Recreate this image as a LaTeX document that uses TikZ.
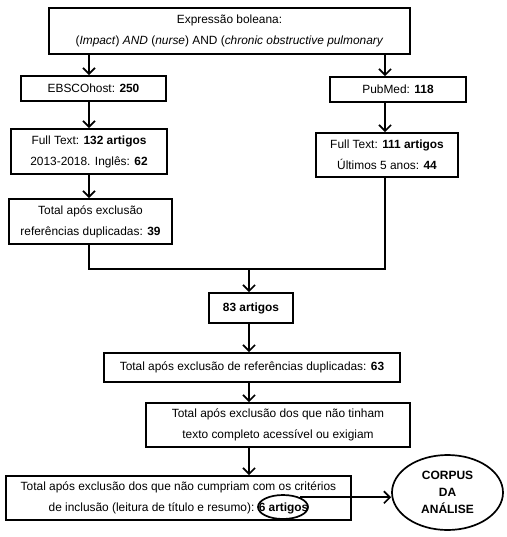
\documentclass[tikz,border=0pt]{standalone}
\usepackage{fontspec}
\setmainfont{Liberation Sans}
\usetikzlibrary{arrows.meta,shapes.geometric}
\begin{document}
\begin{tikzpicture}[x=1pt,y=-1pt,
  box/.style={draw,line width=1.7pt,rectangle,inner sep=0pt,align=center,
    font=\fontsize{11.9}{21}\selectfont},
  arr/.style={line width=1.7pt,-{Straight Barb[length=6pt,width=12pt,line width=1.7pt]}},
  ln/.style={line width=1.7pt}]
\useasboundingbox (0,0) rectangle (506,537);
\node[box,minimum width=361pt,minimum height=46pt] (top) at (229.5,31)
  {Expressão boleana:\\(\textit{Impact}) \textit{AND} (\textit{nurse}) AND (\textit{chronic obstructive pulmonary}};
\node[box,minimum width=145pt,minimum height=25pt] (ebsco) at (93.5,88.5) {EBSCOhost: \textbf{250}};
\node[box,minimum width=136pt,minimum height=25pt] (pubmed) at (398,89.5) {PubMed: \textbf{118}};
\node[box,minimum width=156pt,minimum height=45pt] (ft1) at (89,151.5) {Full Text: \textbf{132 artigos}\\2013-2018. Inglês: \textbf{62}};
\node[box,minimum width=142pt,minimum height=44pt] (ft2) at (387,155) {Full Text: \textbf{111 artigos}\\Últimos 5 anos: \textbf{44}};
\node[box,minimum width=163pt,minimum height=45pt] (tot1) at (90.5,221.5) {Total após exclusão\\referências duplicadas: \textbf{39}};
\node[box,minimum width=84pt,minimum height=30pt] (a83) at (251,308) {\textbf{83 artigos}};
\node[box,minimum width=296pt,minimum height=29pt] (tot63) at (252,367.5) {Total após exclusão de referências duplicadas: \textbf{63}};
\node[box,minimum width=264pt,minimum height=44pt] (totace) at (278,425) {Total após exclusão dos que não tinham\\texto completo acessível ou exigiam};
\node[box,minimum width=345pt,minimum height=44pt] (final) at (178.5,498) {Total após exclusão dos que não cumpriam com os critérios\\de inclusão (leitura de título e resumo): \textbf{6 artigos}};
\node[draw,line width=1.7pt,ellipse,minimum width=50pt,minimum height=24pt,inner sep=0pt] (sm) at (283,507) {};
\node[draw,line width=1.7pt,ellipse,minimum width=111pt,minimum height=75pt,inner sep=0pt,align=center,
  font=\fontsize{12}{17}\selectfont\bfseries] (corpus) at (447.5,492.5) {CORPUS\\DA\\ANÁLISE};
\coordinate (cl) at (89,0);
\coordinate (cr) at (385,0);
\coordinate (cc) at (249,0);
\coordinate (j) at (249,269);
\draw[arr] (top.south -| cl) -- (ebsco.north -| cl);
\draw[arr] (top.south -| cr) -- (pubmed.north -| cr);
\draw[arr] (ebsco.south -| cl) -- (ft1.north -| cl);
\draw[arr] (pubmed.south -| cr) -- (ft2.north -| cr);
\draw[arr] (ft1.south -| cl) -- (tot1.north -| cl);
\draw[ln] (tot1.south -| cl) |- (j);
\draw[ln] (ft2.south -| cr) |- (j);
\draw[arr] (j) -- (a83.north -| cc);
\draw[arr] (a83.south -| cc) -- (tot63.north -| cc);
\draw[arr] (tot63.south -| cc) -- (totace.north -| cc);
\draw[arr] (totace.south -| cc) -- (final.north -| cc);
\draw[arr] (sm.30) -- (sm.30 -| corpus.west);
\end{tikzpicture}
\end{document}
